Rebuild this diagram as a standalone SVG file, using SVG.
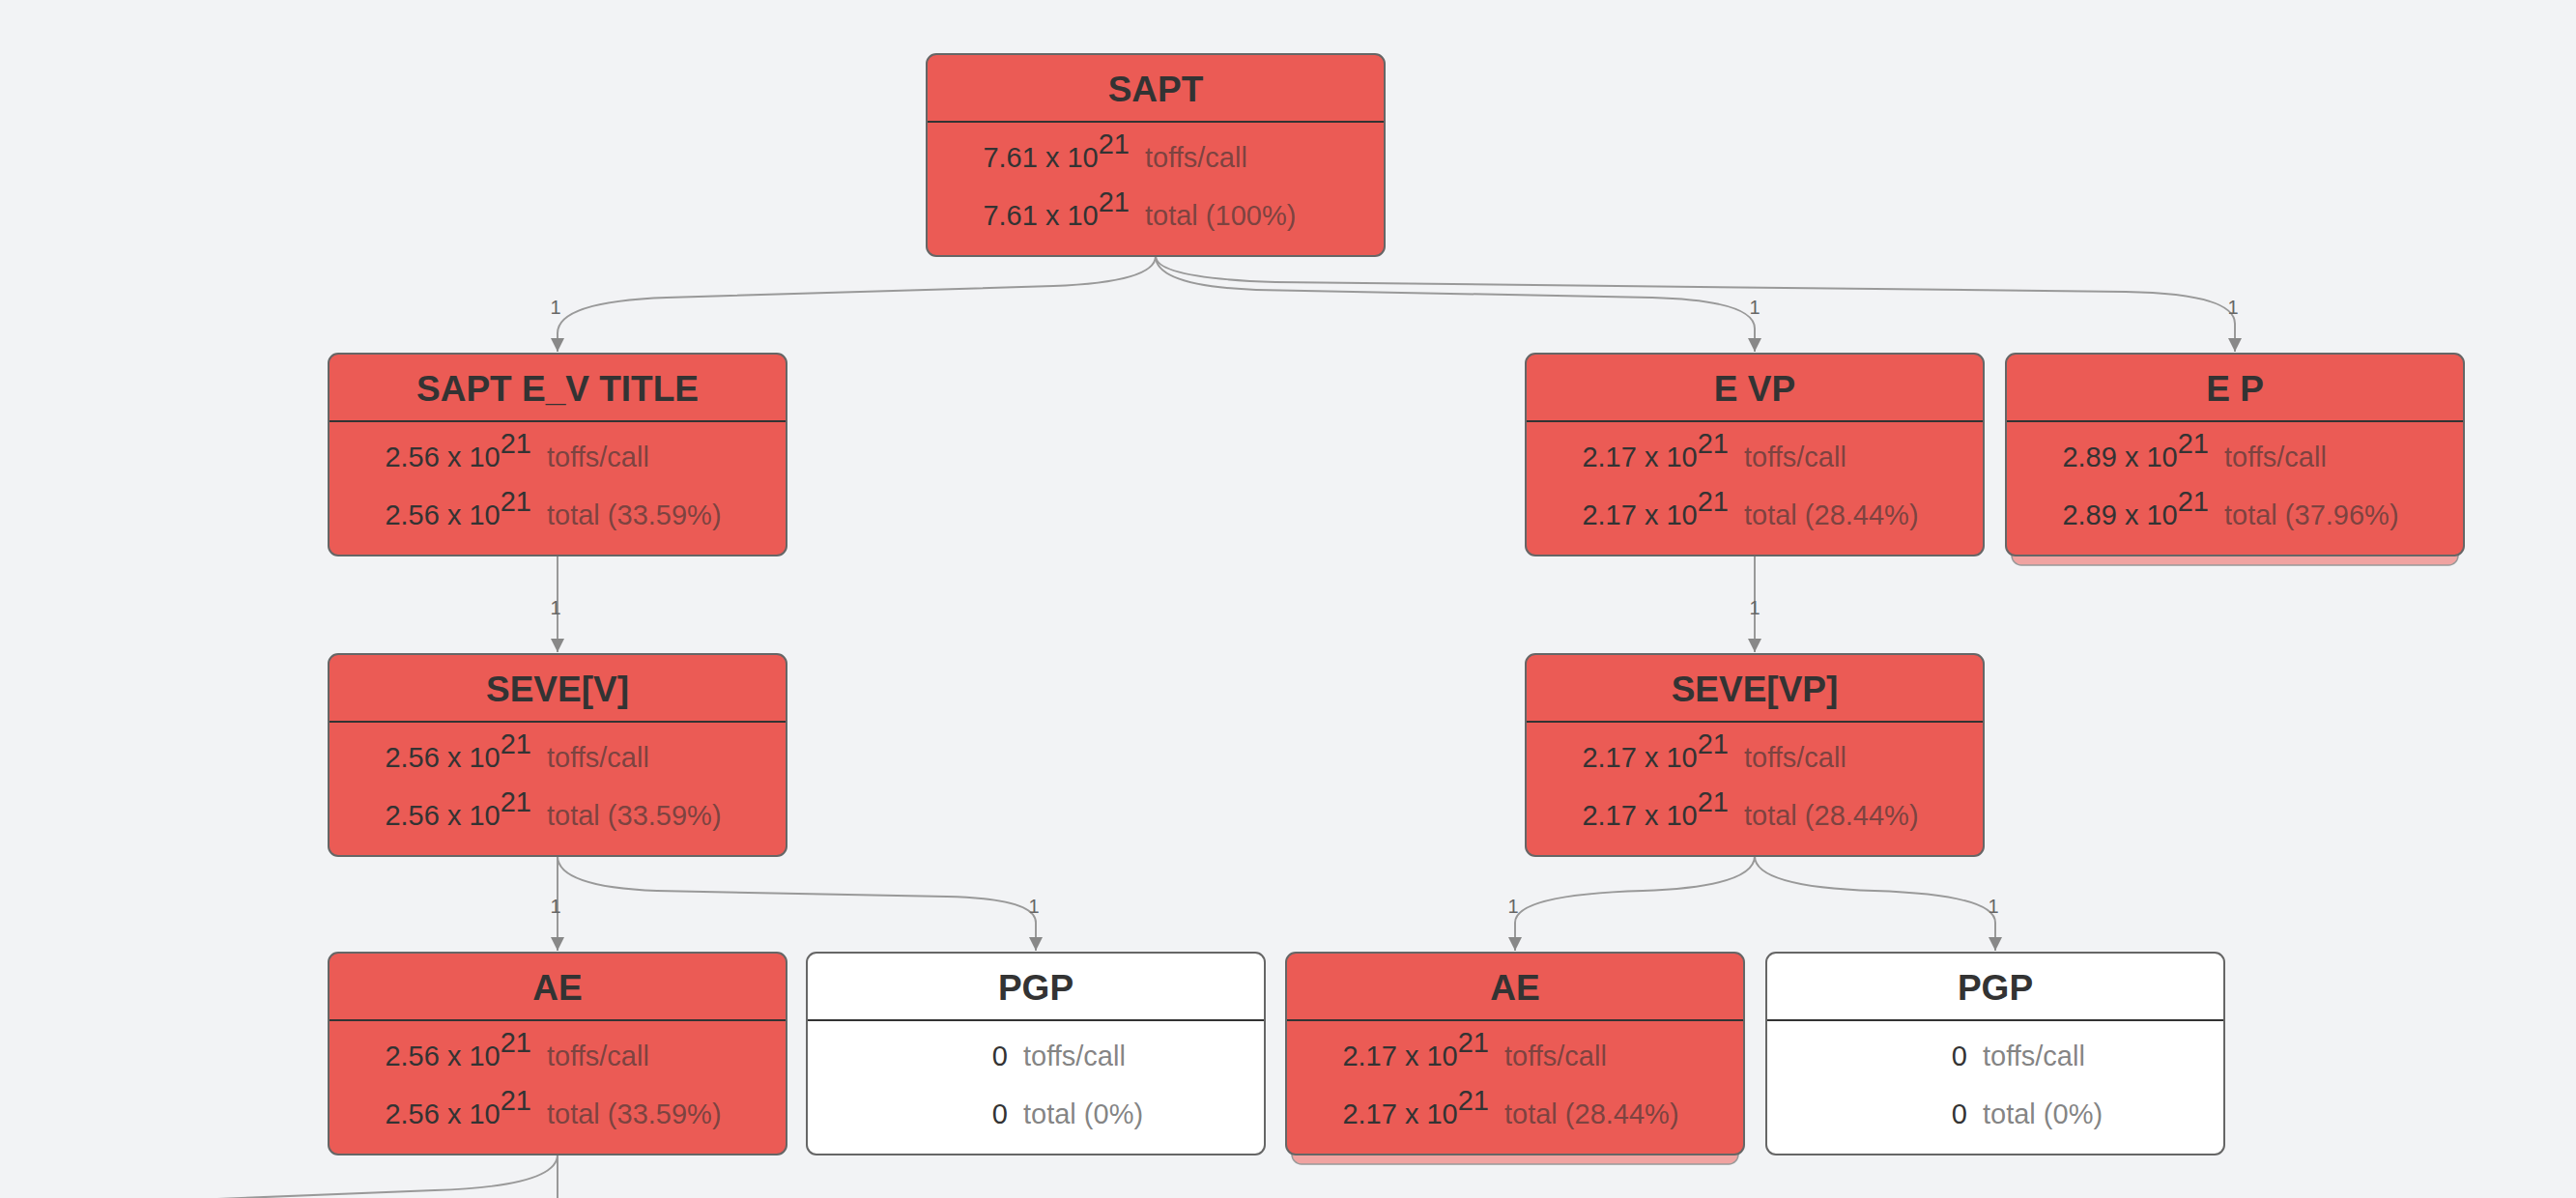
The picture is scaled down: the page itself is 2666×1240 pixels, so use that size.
<svg xmlns="http://www.w3.org/2000/svg" width="2666" height="1240" viewBox="0 0 2666 1240">
<style>
.bg{fill:#f2f3f5}
.box{stroke:#666;stroke-width:2}
.hot{fill:#eb5b55}
.cold{fill:#ffffff}
.sh{fill:#f0a3a1;stroke:#999;stroke-width:1.5}
.sep{stroke:#333;stroke-width:2}
.title{font-family:"Liberation Sans",Arial,sans-serif;font-weight:bold;font-size:37px;fill:#333;text-anchor:middle}
.num{font-family:"Liberation Sans",Arial,sans-serif;font-size:29px;fill:#333;text-anchor:end}
.lab{font-family:"Liberation Sans",Arial,sans-serif;font-size:29px;fill:#333;fill-opacity:0.62}
.edge{fill:none;stroke:#999;stroke-width:2}
.el{font-family:"Liberation Sans",Arial,sans-serif;font-size:20px;fill:#666;text-anchor:middle}
</style>
<defs>
<marker id="arr" markerUnits="userSpaceOnUse" markerWidth="14" markerHeight="16" refX="14" refY="7" orient="auto">
<path d="M0,0 L14,7 L0,14 Z" fill="#888"/>
</marker>
<g id="hotbody">
<rect class="box hot" x="0" y="0" width="474" height="209" rx="10"/>
<line class="sep" x1="1" y1="70" x2="473" y2="70"/>
</g>
<g id="coldbody">
<rect class="box cold" x="0" y="0" width="474" height="209" rx="10"/>
<line class="sep" x1="1" y1="70" x2="473" y2="70"/>
</g>
</defs>
<rect class="bg" x="0" y="0" width="2666" height="1240"/>

<g id="connectors">
<path class="edge" marker-end="url(#arr)" d="M1196,265 Q1196,292 1090,296 L690,308 Q577,312 577,345 L577,364"/>
<path class="edge" marker-end="url(#arr)" d="M1196,265 Q1196,296 1300,300 L1710,308 Q1816,311 1816,340 L1816,364"/>
<path class="edge" marker-end="url(#arr)" d="M1196,265 Q1196,288 1320,292 L2200,302 Q2313,304 2313,335 L2313,364"/>
<path class="edge" marker-end="url(#arr)" d="M577,575 L577,675"/>
<path class="edge" marker-end="url(#arr)" d="M1816,575 L1816,675"/>
<path class="edge" marker-end="url(#arr)" d="M577,886 L577,984"/>
<path class="edge" marker-end="url(#arr)" d="M577,886 Q577,918 680,922 L980,928 Q1072,930 1072,955 L1072,984"/>
<path class="edge" marker-end="url(#arr)" d="M1816,886 Q1816,918 1700,922 Q1568,926 1568,955 L1568,984"/>
<path class="edge" marker-end="url(#arr)" d="M1816,886 Q1816,918 1940,922 Q2065,926 2065,955 L2065,984"/>
<path class="edge" d="M577,1195 L577,1240"/>
<path class="edge" d="M577,1195 Q577,1228 450,1232 L0,1250"/>
<text class="el" x="575" y="325">1</text>
<text class="el" x="1816" y="325">1</text>
<text class="el" x="2311" y="325">1</text>
<text class="el" x="575" y="636">1</text>
<text class="el" x="1816" y="636">1</text>
<text class="el" x="575" y="945">1</text>
<text class="el" x="1070" y="945">1</text>
<text class="el" x="1566" y="945">1</text>
<text class="el" x="2063" y="945">1</text>
</g>

<g id="n_sapt" transform="translate(959,56)">
<use href="#hotbody"/>
<text class="title" x="237" y="49">SAPT</text>
<text class="num" x="210" y="117">7.61 x 10<tspan dy="-14">21</tspan></text>
<text class="lab" x="226" y="117">toffs/call</text>
<text class="num" x="210" y="177">7.61 x 10<tspan dy="-14">21</tspan></text>
<text class="lab" x="226" y="177">total (100%)</text>
</g>

<g id="n_sapt_ev" transform="translate(340,366)">
<use href="#hotbody"/>
<text class="title" x="237" y="49">SAPT E_V TITLE</text>
<text class="num" x="210" y="117">2.56 x 10<tspan dy="-14">21</tspan></text>
<text class="lab" x="226" y="117">toffs/call</text>
<text class="num" x="210" y="177">2.56 x 10<tspan dy="-14">21</tspan></text>
<text class="lab" x="226" y="177">total (33.59%)</text>
</g>

<g id="n_evp" transform="translate(1579,366)">
<use href="#hotbody"/>
<text class="title" x="237" y="49">E VP</text>
<text class="num" x="210" y="117">2.17 x 10<tspan dy="-14">21</tspan></text>
<text class="lab" x="226" y="117">toffs/call</text>
<text class="num" x="210" y="177">2.17 x 10<tspan dy="-14">21</tspan></text>
<text class="lab" x="226" y="177">total (28.44%)</text>
</g>

<g id="n_ep" transform="translate(2076,366)">
<rect class="sh" x="6" y="12" width="462" height="207" rx="10"/>
<use href="#hotbody"/>
<text class="title" x="237" y="49">E P</text>
<text class="num" x="210" y="117">2.89 x 10<tspan dy="-14">21</tspan></text>
<text class="lab" x="226" y="117">toffs/call</text>
<text class="num" x="210" y="177">2.89 x 10<tspan dy="-14">21</tspan></text>
<text class="lab" x="226" y="177">total (37.96%)</text>
</g>

<g id="n_seve_v" transform="translate(340,677)">
<use href="#hotbody"/>
<text class="title" x="237" y="49">SEVE[V]</text>
<text class="num" x="210" y="117">2.56 x 10<tspan dy="-14">21</tspan></text>
<text class="lab" x="226" y="117">toffs/call</text>
<text class="num" x="210" y="177">2.56 x 10<tspan dy="-14">21</tspan></text>
<text class="lab" x="226" y="177">total (33.59%)</text>
</g>

<g id="n_seve_vp" transform="translate(1579,677)">
<use href="#hotbody"/>
<text class="title" x="237" y="49">SEVE[VP]</text>
<text class="num" x="210" y="117">2.17 x 10<tspan dy="-14">21</tspan></text>
<text class="lab" x="226" y="117">toffs/call</text>
<text class="num" x="210" y="177">2.17 x 10<tspan dy="-14">21</tspan></text>
<text class="lab" x="226" y="177">total (28.44%)</text>
</g>

<g id="n_ae1" transform="translate(340,986)">
<use href="#hotbody"/>
<text class="title" x="237" y="49">AE</text>
<text class="num" x="210" y="117">2.56 x 10<tspan dy="-14">21</tspan></text>
<text class="lab" x="226" y="117">toffs/call</text>
<text class="num" x="210" y="177">2.56 x 10<tspan dy="-14">21</tspan></text>
<text class="lab" x="226" y="177">total (33.59%)</text>
</g>

<g id="n_pgp1" transform="translate(835,986)">
<use href="#coldbody"/>
<text class="title" x="237" y="49">PGP</text>
<text class="num" x="208" y="117">0</text>
<text class="lab" x="224" y="117">toffs/call</text>
<text class="num" x="208" y="177">0</text>
<text class="lab" x="224" y="177">total (0%)</text>
</g>

<g id="n_ae2" transform="translate(1331,986)">
<rect class="sh" x="6" y="12" width="462" height="207" rx="10"/>
<use href="#hotbody"/>
<text class="title" x="237" y="49">AE</text>
<text class="num" x="210" y="117">2.17 x 10<tspan dy="-14">21</tspan></text>
<text class="lab" x="226" y="117">toffs/call</text>
<text class="num" x="210" y="177">2.17 x 10<tspan dy="-14">21</tspan></text>
<text class="lab" x="226" y="177">total (28.44%)</text>
</g>

<g id="n_pgp2" transform="translate(1828,986)">
<use href="#coldbody"/>
<text class="title" x="237" y="49">PGP</text>
<text class="num" x="208" y="117">0</text>
<text class="lab" x="224" y="117">toffs/call</text>
<text class="num" x="208" y="177">0</text>
<text class="lab" x="224" y="177">total (0%)</text>
</g>
</svg>
